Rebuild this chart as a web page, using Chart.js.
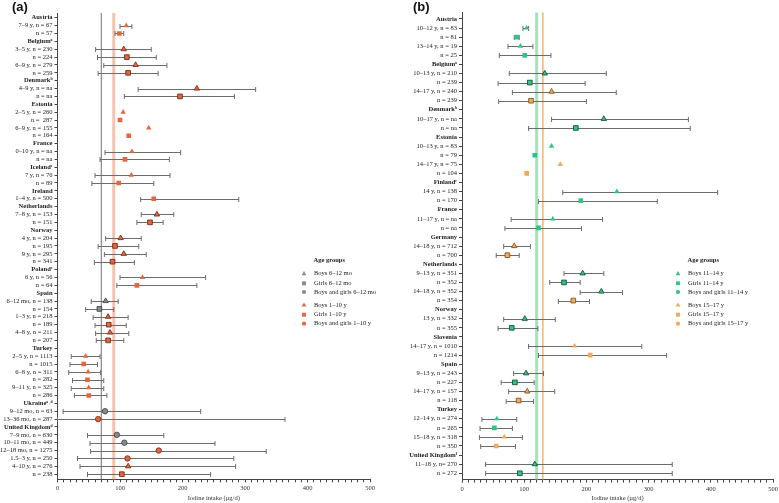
<!DOCTYPE html>
<html><head><meta charset="utf-8">
<script src="https://cdn.jsdelivr.net/npm/chart.js@4.4.0/dist/chart.umd.min.js"></script>
<style>
html,body{margin:0;padding:0;background:#fff;overflow:hidden;width:779px;height:503px;position:relative;}
#wa{position:absolute;left:0;top:0;width:389px;height:503px;}
#wb{position:absolute;left:389px;top:0;width:400px;height:503px;}
.pl{position:absolute;top:0;font:bold 13px "Liberation Sans",Arial,sans-serif;line-height:14px;color:#111;}
</style></head><body>
<div id="wa"><canvas id="ca" width="389" height="503"></canvas></div>
<div id="wb"><canvas id="cb" width="400" height="503"></canvas></div>
<div class="pl" style="left:12px;">(a)</div>
<div class="pl" style="left:413px;">(b)</div>
<script>
// ---------------- Panel (a): infants and children ----------------
const catA = ['Austria','7–9 y, n = 67','n = 57','Belgiumᵃ','3–5 y, n = 230','n = 224','6–9 y, n = 279','n = 259',
 'Denmarkᵇ','4–9 y, n = na','n = na','Estonia','2–5 y, n = 260','n =  287','6–9 y, n = 155','n = 164',
 'France','0–10 y, n = na','n = na','Icelandᶜ','7 y, n = 76','n = 89','Ireland','1–4 y, n = 500',
 'Netherlands','7–8 y, n = 153','n = 151','Norway','4 y, n = 204','n = 195','9 y, n = 295','n = 341',
 'Polandᶜ','6 y, n = 56','n = 64','Spain','6–12 mo, n = 138','n = 154','1–3 y, n = 218','n = 189','4–8 y, n = 211','n = 207',
 'Turkey','2–5 y, n = 1113','n = 1015','6–8 y, n = 311','n = 282','9–11 y, n = 325','n = 286',
 'Ukraineᵃ˒ᵈ','9–12 mo, n = 63','13–36 mo, n = 287','United Kingdomᵈ','7–9 mo, n = 630','10–11 mo, n = 449',
 '12–18 mo, n = 1275','1.5–3 y, n = 250','4–10 y, n = 276','n = 238'];
const valA = [null,110,99,null,106,111,125,113,null,223,196,null,105,100,146,114,null,119,108,null,118,98,null,154,
 null,159,148,null,101,92,106,88,null,136,127,null,77,67,81,82,84,81,null,45,42,49,48,50,50,
 null,76,65,null,95,107,162,112,113,103];
const loA = [null,100,92,null,61,64,74,65,null,129,107,null,null,null,null,null,null,76,68,null,60,55,null,133,
 null,134,127,null,77,65,75,59,null,100,95,null,54,45,57,60,61,62,null,22,20,18,24,22,27,
 null,9,0,null,48,52,53,32,36,48];
const hiA = [null,119,106,null,150,158,175,161,null,317,283,null,null,null,null,null,null,197,179,null,180,154,null,290,
 null,186,169,null,134,130,142,123,null,237,223,null,97,90,113,110,114,106,null,68,64,69,74,74,79,
 null,229,364,null,170,252,334,282,285,245];
// sex: B boys, G girls, BG boys and girls; age: I 6–12 mo, C 1–10 y
const sexA = ['', 'B','G','', 'B','G','B','G','', 'B','G','', 'B','G','B','G','', 'B','G','', 'B','G','', 'G',
 '', 'B','G','', 'B','G','B','G','', 'B','G','', 'B','G','B','G','B','G','', 'B','G','B','G','B','G',
 '', 'BG','BG','', 'BG','BG','BG','BG','B','G'];
const ageA = ['', 'C','C','', 'C','C','C','C','', 'C','C','', 'C','C','C','C','', 'C','C','', 'C','C','', 'C',
 '', 'C','C','', 'C','C','C','C','', 'C','C','', 'I','I','C','C','C','C','', 'C','C','C','C','C','C',
 '', 'I','C','', 'I','I','C','C','C','C'];
// study method group (1 = outlined marker in the figure)
const methA = [0,0,0,0,1,1,1,1,0,1,1,0,0,0,0,0,0,0,0,0,0,0,0,0,
 0,1,1,0,1,1,1,1,0,0,0,0,1,1,1,1,1,1,0,0,0,0,0,0,0,
 0,1,1,0,1,1,1,1,1,1];
const refA = [70, 90];

// ---------------- Panel (b): adolescents ----------------
const catB = ['Austria','10–12 y, n = 83','n = 81','13–14 y, n = 19','n = 25','Belgiumᵃ','10–13 y, n = 210','n = 239',
 '14–17 y, n = 240','n = 239','Denmarkᵇ','10–17 y, n = na','n = na','Estonia','10–13 y, n = 83','n = 79',
 '14–17 y, n = 75','n = 104','Finlandᶜ','14 y, n = 138','n = 170','France','11–17 y, n = na','n = na',
 'Germany','14–18 y, n = 712','n = 700','Netherlands','9–13 y, n = 351','n = 352','14–18 y, n = 352','n = 354',
 'Norway','13 y, n = 332','n = 355','Slovenia','14–17 y, n = 1010','n = 1214','Spain','9–13 y, n = 243','n = 227',
 '14–17 y, n = 157','n = 118','Turkey','12–14 y, n = 274','n = 265','15–18 y, n = 318','n = 350',
 'United Kingdomᶠ','11–18 y, n= 270','n = 272'];
const valB = [null,104,88,94,101,null,133,109,144,111,null,228,183,null,144,117,158,104,null,249,191,null,146,123,
 null,84,73,null,194,164,224,179,null,101,80,null,181,206,null,103,85,105,91,null,56,52,68,55,null,117,93];
const loB = [null,98,84,74,60,null,76,58,81,59,null,144,107,null,null,null,null,null,null,162,123,null,79,69,
 null,67,55,null,164,141,190,155,null,67,58,null,107,123,null,83,63,75,71,null,32,29,28,30,null,38,38];
const hiB = [null,107,92,114,143,null,232,198,248,200,null,364,367,null,null,null,null,null,null,411,314,null,226,192,
 null,110,92,null,228,190,258,205,null,150,122,null,289,329,null,131,116,149,115,null,88,81,97,86,null,338,338];
const sexB = ['', 'B','G','B','G','', 'B','G','B','G','', 'B','G','', 'B','G','B','G','', 'B','G','', 'B','G',
 '', 'B','G','', 'B','G','B','G','', 'B','G','', 'B','G','', 'B','G','B','G','', 'B','G','B','G','', 'B','G'];
// age: Y 11–14 y, O 15–17 y
const ageB = ['', 'Y','Y','Y','Y','', 'Y','Y','O','O','', 'Y','Y','', 'Y','Y','O','O','', 'Y','Y','', 'Y','Y',
 '', 'O','O','', 'Y','Y','Y','O','', 'Y','Y','', 'O','O','', 'Y','Y','O','O','', 'Y','Y','O','O','', 'Y','Y'];
const methB = [0,0,0,0,0,0,1,1,1,1,0,1,1,0,0,0,0,0,0,0,0,0,0,0,
 0,1,1,0,1,1,1,1,0,1,1,0,0,0,0,1,1,1,1,0,0,0,0,0,0,1,1];
const refB = [120, 130];

const xTickLabels = [0,100,200,300,400,500];

// ---------------- helpers ----------------
const FONT = '"Liberation Serif","Times New Roman",serif';
const SHAPE = {B:'triangle', G:'rect', BG:'circle'};
const RAD = {triangle:3.1, rect:3.3, circle:2.7};

function drawShape(ctx, shape, x, y, r, fill){
  ctx.fillStyle = fill;
  ctx.beginPath();
  if(shape==='triangle'){
    ctx.moveTo(x, y - r); ctx.lineTo(x + r*0.9, y + r*0.6); ctx.lineTo(x - r*0.9, y + r*0.6); ctx.closePath();
  } else if(shape==='rect'){
    ctx.rect(x - r*0.75, y - r*0.75, r*1.5, r*1.5);
  } else {
    ctx.arc(x, y, r*0.8, 0, Math.PI*2);
  }
  ctx.fill();
}

const ciPlugin = {
  id:'ci',
  beforeDatasetsDraw(chart, args, o){
    const {ctx, chartArea:a} = chart; const x = chart.scales.x, y = chart.scales.y;
    ctx.save();
    o.refs.forEach(r=>{
      const px = x.getPixelForValue(r.v);
      ctx.strokeStyle = r.c; ctx.lineWidth = r.w;
      ctx.beginPath(); ctx.moveTo(px, a.top); ctx.lineTo(px, a.bottom); ctx.stroke();
    });
    ctx.strokeStyle = '#6c6c6c'; ctx.lineWidth = 1;
    o.lo.forEach((lo,i)=>{
      const hi = o.hi[i];
      if(lo==null || hi==null) return;
      const py = Math.round(y.getPixelForValue(i+1)) + 0.5;
      const x1 = x.getPixelForValue(lo), x2 = x.getPixelForValue(hi);
      ctx.beginPath();
      ctx.moveTo(x1, py); ctx.lineTo(x2, py);
      ctx.moveTo(x1, py-2.5); ctx.lineTo(x1, py+2.5);
      ctx.moveTo(x2, py-2.5); ctx.lineTo(x2, py+2.5);
      ctx.stroke();
    });
    ctx.restore();
  }
};

const legendPlugin = {
  id:'lg',
  afterDraw(chart, args, o){
    const ctx = chart.ctx; const a = chart.chartArea;
    const mx = a.left + o.dx, tx = mx + 10;
    ctx.save();
    ctx.textBaseline = 'middle'; ctx.textAlign = 'left';
    ctx.fillStyle = '#222';
    ctx.font = 'bold 6.5px ' + FONT;
    ctx.fillText('Age groups', tx - 0.5, o.y0);
    ctx.font = '6.5px ' + FONT;
    o.items.forEach((it,k)=>{
      const yy = o.ys[k];
      drawShape(ctx, it.s, mx, yy, 2.6, it.c);
      ctx.fillStyle = '#222';
      ctx.fillText(it.t, tx, yy);
    });
    ctx.restore();
  }
};

function buildChart(canvas, cfg){
  const pts = [];
  cfg.val.forEach((v,i)=>{ if(v!==null) pts.push({x:v, y:i+1, i:i}); });
  const shapeOf = c => SHAPE[cfg.sex[c.raw.i]];
  return new Chart(canvas, {
    type:'scatter',
    data:{ datasets:[{
      data: pts,
      pointStyle: c => shapeOf(c),
      pointRadius: c => RAD[shapeOf(c)],
      pointBackgroundColor: c => cfg.col[cfg.age[c.raw.i]],
      pointBorderColor: c => cfg.bcol[cfg.age[c.raw.i]],
      pointBorderWidth: c => cfg.meth[c.raw.i] ? 0.9 : 0,
      showLine:false
    }]},
    options:{
      responsive:false, animation:false, events:[],
      layout:{ padding:{ left:0, right:cfg.padR, top:cfg.padT, bottom:0 } },
      plugins:{
        legend:{display:false}, tooltip:{enabled:false},
        ci:{ lo:cfg.lo, hi:cfg.hi, refs:cfg.refs },
        lg:cfg.legend
      },
      scales:{
        x:{
          type:'linear', min:0, max:500,
          afterBuildTicks: s => { const t=[]; for(let v=0; v<=500; v+=10) t.push({value:v}); s.ticks = t; },
          ticks:{ autoSkip:false, maxRotation:0, minRotation:0, padding:2.5, color:'#333',
            font:{family:FONT, size:6.5},
            callback: v => xTickLabels.includes(v) ? String(v) : '' },
          grid:{ drawOnChartArea:false, drawTicks:true, tickLength:3, color:'#444' },
          border:{ color:'#444', width:1 },
          title:{ display:true, text:'Iodine intake (µg/d)', color:'#333',
            font:{family:FONT, size:6.5}, padding:{top:0, bottom:1} },
          afterFit: s => { s.height = cfg.xH; }
        },
        y:{
          type:'linear', reverse:true, min:cfg.yMin, max:cfg.yMax,
          afterBuildTicks: s => { s.ticks = cfg.cat.map((_,i)=>({value:i+1})); },
          ticks:{ autoSkip:false, padding:2, color:'#222',
            callback: v => cfg.cat[v-1] || '',
            font: c => {
              const idx = c && c.tick ? c.tick.value - 1 : -1;
              const hdr = idx >= 0 && cfg.val[idx] === null;
              return {family:FONT, size:6.5, weight: hdr ? 'bold' : 'normal'};
            } },
          grid:{ drawOnChartArea:false, drawTicks:true, tickLength:3, color:'#444' },
          border:{ color:'#444', width:1 },
          afterFit: s => { s.width = cfg.yW; }
        }
      }
    },
    plugins:[ciPlugin, legendPlugin]
  });
}

const legendYs = [273.7, 283.3, 292, 305, 314.7, 323.7];

buildChart(document.getElementById('ca'), {
  cat:catA, val:valA, lo:loA, hi:hiA, sex:sexA, age:ageA, meth:methA,
  col:{I:'#8a8a8a', C:'#e5663e'}, bcol:{I:'#454545', C:'#7a2c18'},
  refs:[{v:refA[0], c:'#707070', w:1}, {v:refA[1], c:'rgba(240,175,148,0.75)', w:3}],
  padR:19, padT:13, xH:23.7, yW:57.5, yMin:0.4, yMax:59.65,
  legend:{ dx:246.5, y0:260.7, ys:legendYs, items:[
    {s:'triangle', c:'#8a8a8a', t:'Boys 6–12 mo'},
    {s:'rect', c:'#8a8a8a', t:'Girls 6–12 mo'},
    {s:'circle', c:'#8a8a8a', t:'Boys and girls 6–12 mo'},
    {s:'triangle', c:'#e5663e', t:'Boys 1–10 y'},
    {s:'rect', c:'#e5663e', t:'Girls 1–10 y'},
    {s:'circle', c:'#e5663e', t:'Boys and girls 1–10 y'} ] }
});

buildChart(document.getElementById('cb'), {
  cat:catB, val:valB, lo:loB, hi:hiB, sex:sexB, age:ageB, meth:methB,
  col:{Y:'#2ec585', O:'#f3a85c'}, bcol:{Y:'#1a5436', O:'#84531f'},
  refs:[{v:refB[0], c:'rgba(150,220,182,0.85)', w:3}, {v:refB[1], c:'#f0a850', w:1.3}],
  padR:16, padT:12.6, xH:23.4, yW:73, yMin:0.3, yMax:51.7,
  legend:{ dx:216, y0:260.7, ys:legendYs, items:[
    {s:'triangle', c:'#2ec585', t:'Boys 11–14 y'},
    {s:'rect', c:'#2ec585', t:'Girls 11–14 y'},
    {s:'circle', c:'#2ec585', t:'Boys and girls 11–14 y'},
    {s:'triangle', c:'#f3a85c', t:'Boys 15–17 y'},
    {s:'rect', c:'#f3a85c', t:'Girls 15–17 y'},
    {s:'circle', c:'#f3a85c', t:'Boys and girls 15–17 y'} ] }
});
</script>
</body></html>
